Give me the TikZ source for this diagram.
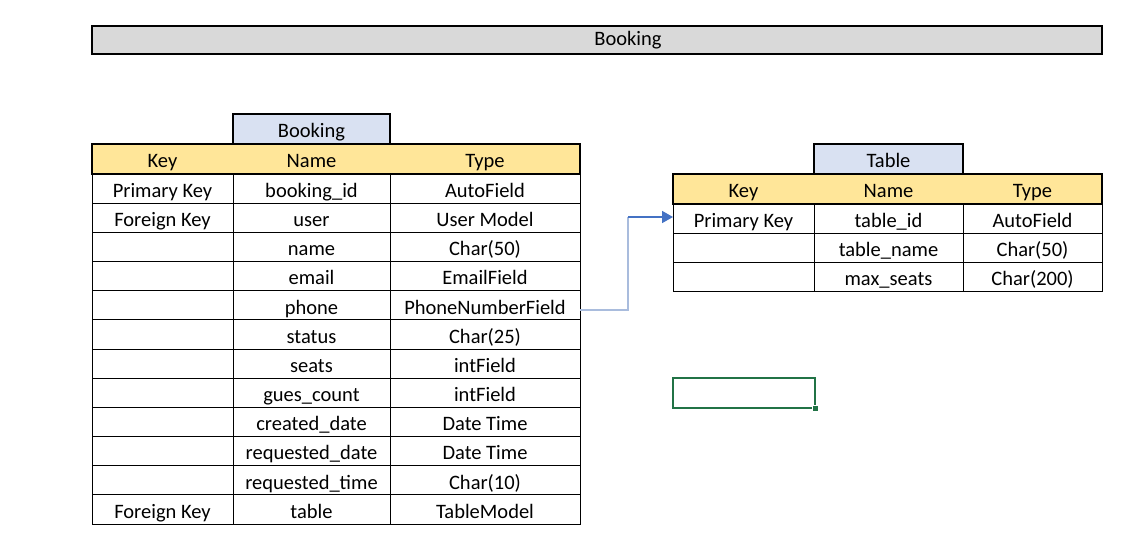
\documentclass[tikz,border=0pt]{standalone}
\usepackage{fontspec}
\setmainfont{Carlito}
\usetikzlibrary{arrows.meta}
\definecolor{hdr}{HTML}{FFE699}
\definecolor{ttl}{HTML}{D9E1F2}
\definecolor{ban}{HTML}{D9D9D9}
\definecolor{xlgreen}{HTML}{217346}
\definecolor{lnklight}{HTML}{A9BCDD}
\definecolor{lnkdark}{HTML}{4472C4}
\begin{document}
\begin{tikzpicture}[x=1pt,y=-1pt,
  every node/.style={font=\fontsize{20.5}{24}\selectfont, inner sep=0pt, outer sep=0pt},
  cell/.style={draw, line width=1pt, minimum height=29.17pt, anchor=north west, text height=17.5pt, text depth=0pt},
  hcell/.style={cell, draw=none, minimum height=30pt},
  thickbox/.style={draw, line width=2pt, minimum height=30pt, anchor=north west, text height=17pt, text depth=0pt},
  hdrbox/.style={thickbox, fill=hdr},
  ttlbox/.style={thickbox, fill=ttl},
  connlight/.style={draw=lnklight, line width=1.6pt},
  conndark/.style={draw=lnkdark, line width=1.6pt, -{Triangle[length=11pt,width=12pt]}}
]
\useasboundingbox (0,0) rectangle (1132,541);
\fill[white] (0,0) rectangle (1132,541);

% banner
\node[draw, line width=2pt, fill=ban, minimum width=1010pt, minimum height=28pt, anchor=north west] (banner) at (92,26) {};
\node (bantext) at (628,40.5) {Booking};

% ---------- Booking table ----------
\foreach \k/\n/\t [count=\i] in {
  Primary Key/booking\_id/AutoField,
  Foreign Key/user/User Model,
  /name/Char(50),
  /email/EmailField,
  /phone/PhoneNumberField,
  /status/Char(25),
  /seats/intField,
  /gues\_count/intField,
  /created\_date/Date Time,
  /requested\_date/Date Time,
  /requested\_time/Char(10),
  Foreign Key/table/TableModel}{
  \node[cell, minimum width=141pt] (bk\i) at (92,{174+(\i-1)*29.17}) {\k};
  \node[cell, minimum width=157pt] (bn\i) at (233,{174+(\i-1)*29.17}) {\n};
  \node[cell, minimum width=190pt] (bt\i) at (390,{174+(\i-1)*29.17}) {\t};
}
\node[ttlbox, minimum width=157pt] (btitle) at (233,114) {Booking};
\node[hdrbox, minimum width=488pt] (bhdr) at (92,144) {};
\node[hcell, minimum width=141pt] (bhk) at (92,144) {Key};
\node[hcell, minimum width=157pt] (bhn) at (233,144) {Name};
\node[hcell, minimum width=190pt] (bht) at (390,144) {Type};

% ---------- Table table ----------
\foreach \k/\n/\t [count=\i] in {
  Primary Key/table\_id/AutoField,
  /table\_name/Char(50),
  /max\_seats/Char(200)}{
  \node[cell, minimum width=141pt] (tk\i) at (673,{204+(\i-1)*29.17}) {\k};
  \node[cell, minimum width=149pt] (tn\i) at (814,{204+(\i-1)*29.17}) {\n};
  \node[cell, minimum width=139pt] (tt\i) at (963,{204+(\i-1)*29.17}) {\t};
}
\node[ttlbox, minimum width=149pt] (ttitle) at (814,144) {Table};
\node[hdrbox, minimum width=429pt] (thdr) at (673,174) {};
\node[hcell, minimum width=141pt] (thk) at (673,174) {Key};
\node[hcell, minimum width=149pt] (thn) at (814,174) {Name};
\node[hcell, minimum width=139pt] (tht) at (963,174) {Type};

% ---------- connector ----------
\coordinate (bend) at (628,217);
\draw[connlight] ([yshift=-4.5pt]bt5.east) -| (bend);
\draw[conndark] (bend) -- (tk1.west |- bend);

% ---------- selected cell ----------
\node[draw=xlgreen, line width=2pt, minimum width=142pt, minimum height=30pt, anchor=north west] (sel) at (673,378) {};
\node[fill=xlgreen, draw=white, line width=0.8pt, minimum size=6pt] (selh) at (sel.south east) {};
\end{tikzpicture}
\end{document}
